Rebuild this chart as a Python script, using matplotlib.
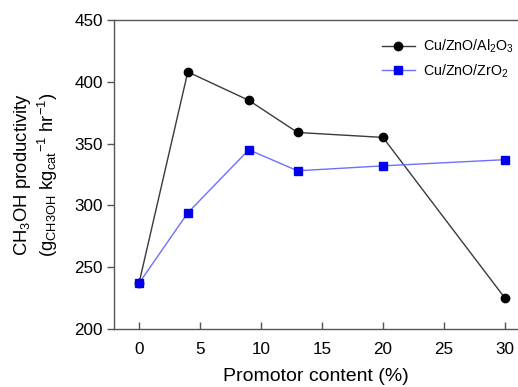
import numpy as np
import matplotlib.pyplot as plt

plt.rcParams['font.family'] = ['Liberation Sans', 'DejaVu Sans']
plt.rcParams['mathtext.fontset'] = 'custom'
plt.rcParams['mathtext.rm'] = 'Liberation Sans'
plt.rcParams['mathtext.it'] = 'Liberation Sans'
plt.rcParams['mathtext.default'] = 'regular'

# promotor content (%)
content = [0, 4, 9, 13, 20, 30]
al2o3 = [237, 408, 385, 359, 355, 225]
zro2 = [237, 294, 345, 328, 332, 337]

xticks = [0, 5, 10, 15, 20, 25, 30]
yticks = [200, 250, 300, 350, 400, 450]

fig = plt.figure(figsize=(5.18, 3.87), dpi=100)
# axes box: left 114px, right 518px, top 20px, bottom 329px
ax = fig.add_axes([114 / 518, (387 - 329) / 387, (518 - 114) / 518, (329 - 20) / 387])

ax.plot(content, al2o3, color='#3a3a3a', lw=1.0, marker='o', ms=6,
        mfc='black', mec='black', label='Cu/ZnO/Al$_2$O$_3$')
ax.plot(content, zro2, color='#6f6fff', lw=1.0, marker='s', ms=5.5,
        mfc='#0000ee', mec='#0000ee', label='Cu/ZnO/ZrO$_2$')

ax.set_xlim(-2.05, 31.07)
ax.set_ylim(200, 450)
ax.set_xticks(xticks)
ax.set_yticks(yticks)

for s in ['left', 'bottom', 'top']:
    ax.spines[s].set_color('#555555')
    ax.spines[s].set_linewidth(1.0)
ax.spines['right'].set_visible(False)

ax.tick_params(axis='x', direction='in', length=5, width=1, color='#555555',
               labelsize=12.3, pad=9)
ax.tick_params(axis='y', direction='out', length=5, width=1, color='#555555',
               labelsize=12.3, pad=3)

ax.set_xlabel('Promotor content (%)', fontsize=14, labelpad=8)
ax.set_ylabel('CH$_3$OH productivity\n(g$_{CH3OH}$ kg$_{cat}$$^{-1}$ hr$^{-1}$)',
              fontsize=13.3, linespacing=1.15)
ax.yaxis.set_label_coords(-0.133, 0.5)

ax.legend(loc='upper right', bbox_to_anchor=(1.015, 0.975), frameon=False,
          fontsize=10.3, handlelength=2.3, handletextpad=0.6, labelspacing=0.5,
          borderaxespad=0.3)

fig.savefig('out.png', dpi=100)
